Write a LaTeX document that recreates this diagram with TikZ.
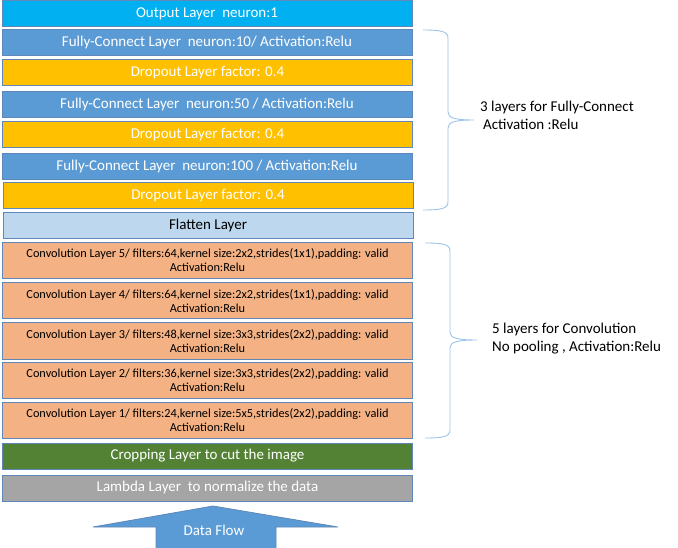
\documentclass[tikz,border=0pt]{standalone}
\usepackage{fontspec}
\setmainfont{Carlito}
\definecolor{outcyan}{HTML}{00B0F0}
\definecolor{fcblue}{HTML}{5B9BD5}
\definecolor{dropgold}{HTML}{FFC000}
\definecolor{flatblue}{HTML}{BDD7EE}
\definecolor{convorange}{HTML}{F4B183}
\definecolor{cropgreen}{HTML}{548235}
\definecolor{lambdagray}{HTML}{A5A5A5}
\definecolor{edgeblue}{HTML}{5F88B8}
\definecolor{bracecol}{HTML}{9DC3E6}
\tikzset{
  layer/.style={draw=edgeblue, line width=1pt, minimum width=410pt, minimum height=26pt,
    inner sep=0pt, text=white, font=\fontsize{15}{18}\selectfont},
  convlayer/.style={layer, fill=convorange, minimum height=36pt, text=black, align=center,
    font=\fontsize{12.3}{14}\selectfont},
  bracket/.style={draw=bracecol, line width=0.9pt},
  note/.style={anchor=west, align=left, inner sep=0pt, font=\fontsize{15}{18}\selectfont}
}
\begin{document}
\begin{tikzpicture}[x=1pt, y=-1pt]
\useasboundingbox (0,0) rectangle (678,548);

% dense layers
\node[layer, fill=outcyan] (out) at (207,13.5) {Output Layer\ \ neuron:1};
\node[layer, fill=fcblue] (fcten) at (207,43) {Fully-Connect Layer\ \ neuron:10/ Activation:Relu};
\node[layer, fill=dropgold] (dropa) at (207.5,73) {Dropout Layer factor: 0.4};
\node[layer, fill=fcblue] (fcfifty) at (207,105) {Fully-Connect Layer\ \ neuron:50 / Activation:Relu};
\node[layer, fill=dropgold] (dropb) at (207.5,135) {Dropout Layer factor: 0.4};
\node[layer, fill=fcblue] (fchundred) at (207,167) {Fully-Connect Layer\ \ neuron:100 / Activation:Relu};
\node[layer, fill=dropgold] (dropc) at (208,196) {Dropout Layer factor: 0.4};
\node[layer, fill=flatblue, text=black] (flat) at (208,226) {Flatten Layer};

% convolutions
\node[convlayer] (convfive) at (207.5,260.5) {Convolution Layer 5/ filters:64,kernel size:2x2,strides(1x1),padding: valid\\Activation:Relu};
\node[convlayer] (convfour) at (207.5,301) {Convolution Layer 4/ filters:64,kernel size:2x2,strides(1x1),padding: valid\\Activation:Relu};
\node[convlayer] (convthree) at (207.5,341) {Convolution Layer 3/ filters:48,kernel size:3x3,strides(2x2),padding: valid\\Activation:Relu};
\node[convlayer] (convtwo) at (207.5,380) {Convolution Layer 2/ filters:36,kernel size:3x3,strides(2x2),padding: valid\\Activation:Relu};
\node[convlayer] (convone) at (207.5,420) {Convolution Layer 1/ filters:24,kernel size:5x5,strides(2x2),padding: valid\\Activation:Relu};

\node[layer, fill=cropgreen] (crop) at (207.5,456) {Cropping Layer to cut the image};
\node[layer, fill=lambdagray] (lambda) at (207.5,488) {Lambda Layer\ \ to normalize the data};

% data flow arrow
\fill[fcblue, draw=edgeblue, line width=0.8pt] (213,506) -- (338,527) -- (276,527) -- (276,549)
  -- (156,549) -- (156,527) -- (93,527) -- cycle;
\node[inner sep=0pt, text=white, font=\fontsize{15}{18}\selectfont] (flow) at (214,530) {Data Flow};

% braces
\draw[bracket] (423,30) .. controls (440,30) and (448,31) .. (448,38) -- (448,112)
  .. controls (448,118) and (455,120) .. (474,120) .. controls (455,120) and (448,122) .. (448,128)
  -- (448,202) .. controls (448,209) and (440,210) .. (423,210);
\draw[bracket] (425,243) .. controls (442,243) and (450,244) .. (450,251) -- (450,332)
  .. controls (450,338) and (457,340) .. (477,340) .. controls (457,340) and (450,342) .. (450,348)
  -- (450,430) .. controls (450,437) and (442,438) .. (425,438);

\node[note] (fcnote) at (480,115) {3 layers for Fully-Connect\\\hspace*{3pt}Activation :Relu};
\node[note] (convnote) at (492,339) {5 layers for Convolution\\No pooling , Activation:Relu};
\end{tikzpicture}
\end{document}
